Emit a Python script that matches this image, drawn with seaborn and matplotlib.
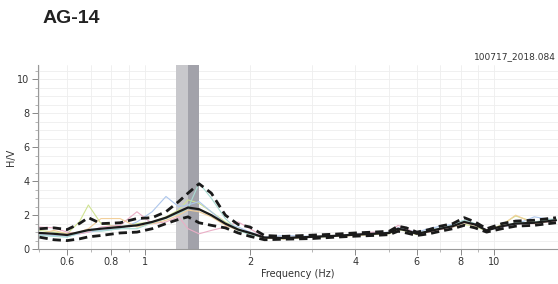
import numpy as np
import pandas as pd
import matplotlib
matplotlib.use('Agg')
import matplotlib.pyplot as plt
from matplotlib.ticker import FixedLocator, NullFormatter, MultipleLocator
import seaborn as sns


TITLE = 'AG-14'
RECORD = '100717_2018.084'

freq = [0.5, 0.55, 0.6, 0.65, 0.69, 0.75, 0.85, 0.95, 1.05, 1.15, 1.25, 1.33, 1.43,
        1.55, 1.7, 1.85, 2.0, 2.2, 2.5, 3.0, 3.5, 4.0, 4.5, 5.0, 5.3, 5.6, 6.0, 6.5,
        7.0, 7.6, 8.2, 8.8, 9.5, 10.5, 11.5, 13.0, 15.0]

hv_mean = [0.95, 0.9, 0.83, 1.0, 1.12, 1.2, 1.3, 1.4, 1.6, 1.85, 2.2, 2.45, 2.35,
           2.0, 1.5, 1.15, 0.95, 0.68, 0.65, 0.72, 0.78, 0.85, 0.9, 0.95, 1.2, 1.1,
           0.9, 1.05, 1.2, 1.35, 1.6, 1.45, 1.1, 1.35, 1.5, 1.55, 1.7]
hv_upper = [1.2, 1.25, 1.15, 1.5, 1.85, 1.5, 1.55, 1.8, 1.85, 2.2, 2.8, 3.3, 3.85,
            3.3, 2.0, 1.45, 1.3, 0.8, 0.75, 0.82, 0.88, 0.95, 1.0, 1.05, 1.35, 1.25,
            1.0, 1.15, 1.35, 1.5, 1.85, 1.6, 1.2, 1.5, 1.65, 1.7, 1.85]
hv_lower = [0.7, 0.55, 0.5, 0.6, 0.72, 0.8, 0.95, 1.0, 1.2, 1.5, 1.75, 1.9, 1.55,
            1.4, 1.25, 0.95, 0.75, 0.55, 0.58, 0.62, 0.7, 0.76, 0.8, 0.85, 1.05, 0.95,
            0.8, 0.9, 1.05, 1.2, 1.4, 1.25, 1.0, 1.2, 1.35, 1.4, 1.55]

# individual windows
win_1 = [1.1, 1.0, 0.9, 1.6, 2.6, 1.5, 1.3, 1.5, 1.6, 1.9, 2.3, 2.9, 2.7, 2.2, 1.6,
         1.2, 0.9, 0.65, 0.6, 0.7, 0.75, 0.82, 0.85, 0.9, 1.15, 1.05, 0.85, 1.0, 1.15,
         1.3, 1.45, 1.35, 1.05, 1.45, 1.95, 1.6, 1.75]
win_2 = [0.85, 0.8, 0.75, 0.9, 1.0, 1.1, 1.2, 1.6, 2.2, 3.1, 2.5, 2.6, 2.8, 2.2, 1.5,
         1.3, 1.0, 0.7, 0.8, 0.75, 0.8, 0.9, 0.95, 1.0, 1.25, 1.15, 1.0, 1.2, 1.35,
         1.45, 1.7, 1.5, 1.1, 1.3, 1.45, 1.9, 1.7]
win_3 = [1.3, 1.25, 1.0, 0.9, 1.0, 1.3, 1.4, 2.2, 1.5, 1.6, 1.9, 1.2, 0.9, 1.1, 1.3,
         1.6, 1.2, 0.7, 0.65, 0.7, 0.8, 0.85, 1.0, 0.95, 1.4, 1.2, 0.9, 1.0, 1.15,
         1.3, 1.55, 1.4, 1.15, 1.3, 1.5, 1.5, 1.65]
win_4 = [0.9, 1.1, 0.9, 1.0, 1.2, 1.8, 1.8, 1.3, 1.5, 1.7, 2.0, 2.3, 2.2, 1.9, 1.4,
         1.1, 0.9, 0.65, 0.6, 0.75, 0.75, 0.8, 0.88, 0.92, 1.2, 1.1, 0.88, 1.05, 1.2,
         1.35, 1.55, 1.45, 1.1, 1.4, 2.0, 1.5, 1.7]
win_5 = [0.8, 0.75, 0.7, 0.95, 1.1, 1.05, 1.2, 1.2, 1.55, 1.8, 2.1, 2.4, 3.9, 3.0, 1.8,
         1.1, 0.85, 0.7, 0.65, 0.72, 0.78, 0.85, 0.9, 0.98, 1.2, 1.1, 0.92, 1.1, 1.25,
         1.4, 1.7, 1.5, 1.1, 1.35, 1.55, 1.6, 1.8]
win_colors = ['#cfe391', '#adc6ec', '#eaaec6', '#f2cf9a', '#a9dcd2']

# peak frequency band (f0 - std .. f0 + std) and f0 .. f0 + std
f0_band = [1.23, 1.43]
f0_dark = [1.33, 1.43]

x_ticks = [0.6, 0.8, 1, 2, 4, 6, 8, 10]
x_minor = [0.5, 0.6, 0.7, 0.8, 0.9, 1, 2, 3, 4, 5, 6, 7, 8, 9, 10, 20]


def build_frame():
	wins = [win_1, win_2, win_3, win_4, win_5]
	rows = []
	for i, w in enumerate(wins):
		rows.append(pd.DataFrame({'Frequency': freq, 'HV': w, 'win': 'w%d' % i}))
	return pd.concat(rows, ignore_index = True)


def plot_hv():
	sns.set_style('white')
	plt.rcParams['font.family'] = ['DejaVu Sans']

	fig = plt.figure(figsize = (5.58, 2.84), dpi = 100)
	ax = fig.add_axes([0.068, 0.123, 0.932, 0.648])
	ax.set_xscale('log')

	ax.axvspan(f0_band[0], f0_band[1], color = '#c8c8cc', zorder = 1, lw = 0)
	ax.axvspan(f0_dark[0], f0_dark[1], color = '#a2a2aa', zorder = 1, lw = 0)

	df = build_frame()
	sns.lineplot(data = df, x = 'Frequency', y = 'HV', hue = 'win', palette = win_colors,
		lw = 0.8, legend = False, ax = ax, zorder = 2)

	sns.lineplot(x = freq, y = hv_mean, color = '#1a1a1a', lw = 1.6, ax = ax, zorder = 4)
	sns.lineplot(x = freq, y = hv_upper, color = '#1a1a1a', lw = 2.0, ax = ax, zorder = 4,
		linestyle = (0, (3, 1.8)))
	sns.lineplot(x = freq, y = hv_lower, color = '#1a1a1a', lw = 2.0, ax = ax, zorder = 4,
		linestyle = (0, (3, 1.8)))

	ax.set_xlim(0.495, 15.2)
	ax.set_ylim(0, 10.85)

	ax.xaxis.set_major_locator(FixedLocator(x_ticks))
	ax.set_xticklabels([('%g' % t) for t in x_ticks])
	ax.xaxis.set_minor_locator(FixedLocator(x_minor))
	ax.xaxis.set_minor_formatter(NullFormatter())
	ax.yaxis.set_major_locator(MultipleLocator(2))
	ax.yaxis.set_minor_locator(MultipleLocator(0.5))

	ax.grid(True, which = 'both', color = '#eeeeee', lw = 0.6, zorder = 0)
	ax.set_axisbelow(True)
	for s in ['top', 'right']:
		ax.spines[s].set_visible(False)
	for s in ['left', 'bottom']:
		ax.spines[s].set_color('#999999')
		ax.spines[s].set_linewidth(0.8)

	ax.tick_params(which = 'major', length = 4, width = 0.7, color = '#888888',
		labelsize = 7, labelcolor = '#333333', pad = 2, left = True, bottom = True)
	ax.tick_params(which = 'minor', length = 2.5, width = 0.6, color = '#aaaaaa',
		left = True, bottom = True)

	ax.set_xlabel('Frequency (Hz)', fontsize = 7, color = '#333333', labelpad = 1.5)
	ax.set_ylabel('H/V', fontsize = 7, color = '#333333', labelpad = 1)

	fig.text(0.077, 0.935, TITLE, fontsize = 14, fontweight = 'bold', color = '#222222',
		family = 'Liberation Sans', va = 'center', ha = 'left')
	fig.text(0.997, 0.8, RECORD, fontsize = 6.5, color = '#333333', ha = 'right', va = 'center')

	fig.savefig('out.png', dpi = 100)
	plt.close()


if __name__ == '__main__':

	plot_hv()
